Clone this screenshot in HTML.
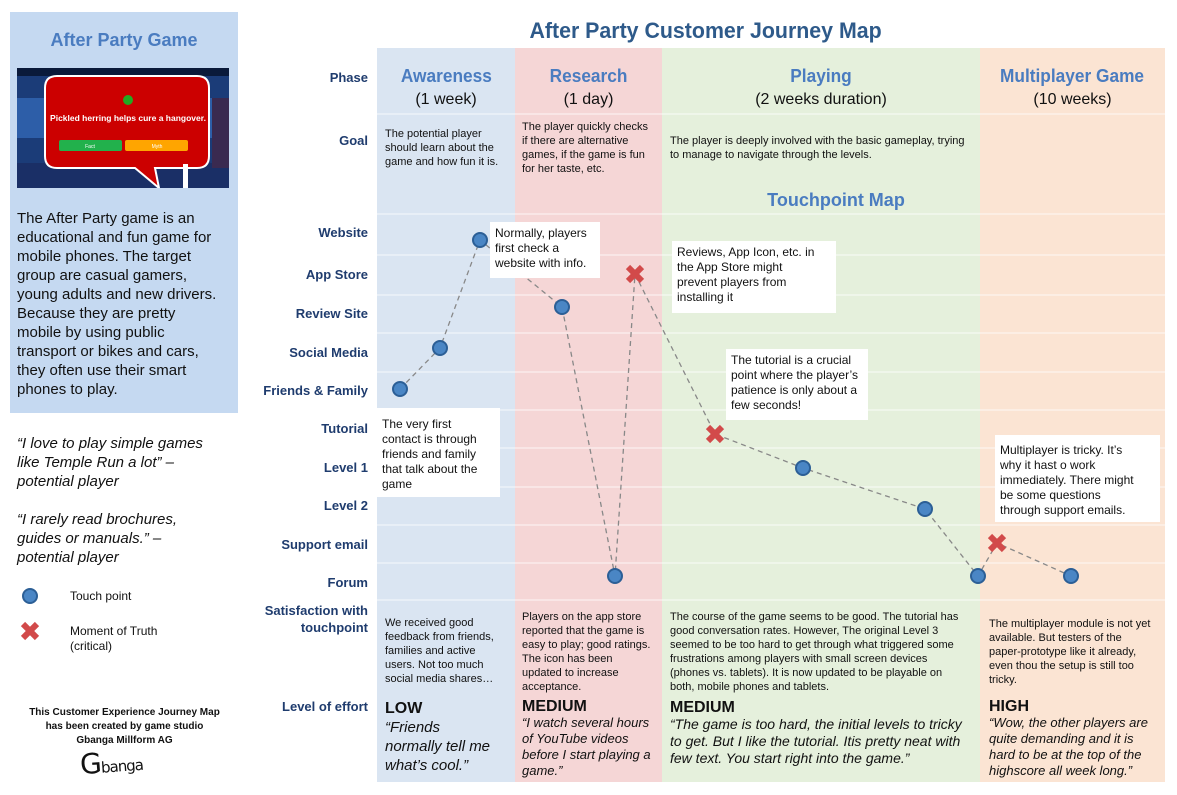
<!DOCTYPE html>
<html><head><meta charset="utf-8"><style>
*{margin:0;padding:0;box-sizing:border-box}
body{width:1177px;height:795px;background:#fff;position:relative;overflow:hidden;font-family:"Liberation Sans",sans-serif;color:#111}
.a{position:absolute;white-space:nowrap}
.lbl{position:absolute;right:809px;font-weight:bold;font-size:13px;color:#1f3c6e;text-align:right;white-space:nowrap}
.ph{position:absolute;text-align:center;font-size:16px;line-height:22px}
.ph b{color:#4a7cc0;font-size:18px;display:inline-block;transform:scaleX(.96)}
.sm{font-size:11px;line-height:14px}
.box{position:absolute;background:#fff;font-size:12px;line-height:15px;padding:4px 5px;white-space:nowrap}
.eff{position:absolute;font-size:15px;line-height:19px;white-space:nowrap}
.eff b{font-style:normal;font-size:16px;display:block}
.eff i{display:block}
</style></head><body>
<!-- left panel -->
<div class="a" style="left:10px;top:12px;width:228px;height:401px;background:#c5d9f1"></div>
<div class="a" style="left:10px;top:30px;width:228px;text-align:center;color:#4a7cc0;font-size:18px;font-weight:bold">After Party Game</div>
<svg class="a" style="left:17px;top:68px" width="212" height="120" viewBox="0 0 212 120">
<rect width="212" height="120" fill="#1b3c78"/>
<rect y="0" width="212" height="8" fill="#0a1a3a"/>
<rect y="30" width="212" height="40" fill="#2d5ea8"/>
<rect y="95" width="212" height="25" fill="#1a2f66"/>
<rect x="195" y="30" width="17" height="70" fill="#3a2a50"/>
<path d="M40 8 L180 8 Q192 8 192 20 L192 88 Q192 100 180 100 L138 100 L142 120 L118 100 L40 100 Q28 100 28 88 L28 20 Q28 8 40 8 Z" fill="#cc0000" stroke="#fff" stroke-width="2"/>
<circle cx="111" cy="32" r="5" fill="#2a2"/>
<text x="111" y="53" font-size="8.5" font-weight="bold" fill="#fff" text-anchor="middle" font-family="Liberation Sans">Pickled herring helps cure a hangover.</text>
<rect x="42" y="72" width="63" height="11" rx="2" fill="#22b14c"/>
<rect x="108" y="72" width="63" height="11" rx="2" fill="#ffa500"/>
<text x="73" y="80" font-size="5" fill="#fff" text-anchor="middle">Fact</text>
<text x="140" y="80" font-size="5" fill="#fff" text-anchor="middle">Myth</text>
<rect x="166" y="96" width="5" height="24" fill="#fff"/>
</svg>
<div class="a" style="left:17px;top:209px;font-size:15px;line-height:19px">The After Party game is an<br>educational and fun game for<br>mobile phones. The target<br>group are casual gamers,<br>young adults and new drivers.<br>Because they are pretty<br>mobile by using public<br>transport or bikes and cars,<br>they often use their smart<br>phones to play.</div>
<div class="a" style="left:17px;top:434px;font-size:15px;line-height:19px;font-style:italic">“I love to play simple games<br>like Temple Run a lot” –<br>potential player<br><br>“I rarely read brochures,<br>guides or manuals.” –<br>potential player</div>
<svg class="a" style="left:18px;top:586px" width="30" height="60"><circle cx="12" cy="10" r="7" fill="#4a86c5" stroke="#2c5f96" stroke-width="2"/><path d="M5 38 L19 52 M19 38 L5 52" stroke="#d24a4a" stroke-width="6"/></svg>
<div class="a" style="left:70px;top:589px;font-size:12px">Touch point</div>
<div class="a" style="left:70px;top:624px;font-size:12px;line-height:15px">Moment of Truth<br>(critical)</div>
<div class="a" style="left:12px;top:706px;width:225px;text-align:center;font-size:10px;font-weight:bold;line-height:14px">This Customer Experience Journey Map<br>has been created by game studio<br>Gbanga Millform AG</div>
<div class="a" style="left:80px;top:746px;font-size:28px;font-family:'DejaVu Sans',sans-serif;letter-spacing:-1px;transform:rotate(-4deg)">G<span style="font-size:15px">banga</span></div>

<!-- title -->
<div class="a" style="left:377px;top:18px;width:658px;text-align:center;font-size:22px;font-weight:bold;color:#2e5a8a"><span style="display:inline-block;transform:scaleX(.97)">After Party Customer Journey Map</span></div>
<!-- columns -->
<div class="a" style="left:377px;top:48px;width:138px;height:734px;background:#dae5f2"></div>
<div class="a" style="left:515px;top:48px;width:147px;height:734px;background:#f5d6d6"></div>
<div class="a" style="left:662px;top:48px;width:318px;height:734px;background:#e5f0dc"></div>
<div class="a" style="left:980px;top:48px;width:185px;height:734px;background:#fbe4d3"></div>
<svg class="a" style="left:377px;top:0" width="788" height="795">
<g stroke="#fff" stroke-width="1" opacity=".8">
<line x1="0" y1="114" x2="788" y2="114"/><line x1="0" y1="214" x2="788" y2="214"/><line x1="0" y1="255" x2="788" y2="255"/><line x1="0" y1="295" x2="788" y2="295"/><line x1="0" y1="333" x2="788" y2="333"/><line x1="0" y1="372" x2="788" y2="372"/><line x1="0" y1="410" x2="788" y2="410"/><line x1="0" y1="448" x2="788" y2="448"/><line x1="0" y1="487" x2="788" y2="487"/><line x1="0" y1="525" x2="788" y2="525"/><line x1="0" y1="563" x2="788" y2="563"/><line x1="0" y1="600" x2="788" y2="600"/>
</g></svg>

<!-- row labels -->
<div class="lbl" style="top:70px">Phase</div>
<div class="lbl" style="top:133px">Goal</div>
<div class="lbl" style="top:225px">Website</div>
<div class="lbl" style="top:267px">App Store</div>
<div class="lbl" style="top:306px">Review Site</div>
<div class="lbl" style="top:345px">Social Media</div>
<div class="lbl" style="top:383px">Friends &amp; Family</div>
<div class="lbl" style="top:421px">Tutorial</div>
<div class="lbl" style="top:460px">Level 1</div>
<div class="lbl" style="top:498px">Level 2</div>
<div class="lbl" style="top:537px">Support email</div>
<div class="lbl" style="top:575px">Forum</div>
<div class="lbl" style="top:602px;line-height:17px">Satisfaction with<br>touchpoint</div>
<div class="lbl" style="top:699px">Level of effort</div>

<!-- phases -->
<div class="ph" style="left:377px;top:65px;width:138px"><b>Awareness</b><br>(1 week)</div>
<div class="ph" style="left:515px;top:65px;width:147px"><b>Research</b><br>(1 day)</div>
<div class="ph" style="left:662px;top:65px;width:318px"><b>Playing</b><br>(2 weeks duration)</div>
<div class="ph" style="left:980px;top:65px;width:185px"><b>Multiplayer Game</b><br>(10 weeks)</div>
<!-- goals -->
<div class="a sm" style="left:385px;top:127px">The potential player<br>should learn about the<br>game and how fun it is.</div>
<div class="a sm" style="left:522px;top:120px">The player quickly checks<br>if there are alternative<br>games, if the game is fun<br>for her taste, etc.</div>
<div class="a sm" style="left:670px;top:134px">The player is deeply involved with the basic gameplay, trying<br>to manage to navigate through the levels.</div>
<div class="a" style="left:662px;top:190px;width:348px;text-align:center;font-size:18px;font-weight:bold;color:#4a7cc0">Touchpoint Map</div>

<!-- path -->
<svg class="a" style="left:0;top:0" width="1177" height="795">
<polyline points="400,389 440,348 480,240 562,307 615,576 635,274 715,434 803,468 925,509 978,576 997,543 1071,576" fill="none" stroke="#888" stroke-width="1.3" stroke-dasharray="5,4"/>
<g fill="#4a86c5" stroke="#2c5f96" stroke-width="2">
<circle cx="400" cy="389" r="7"/><circle cx="440" cy="348" r="7"/><circle cx="480" cy="240" r="7"/><circle cx="562" cy="307" r="7"/><circle cx="615" cy="576" r="7"/><circle cx="803" cy="468" r="7"/><circle cx="925" cy="509" r="7"/><circle cx="978" cy="576" r="7"/><circle cx="1071" cy="576" r="7"/>
</g>
<g stroke="#d24a4a" stroke-width="6">
<path d="M628 267 L642 281 M642 267 L628 281"/><path d="M708 427 L722 441 M722 427 L708 441"/><path d="M990 536 L1004 550 M1004 536 L990 550"/>
</g></svg>

<!-- boxes -->
<div class="box" style="left:490px;top:222px;width:110px;height:56px">Normally, players<br>first check a<br>website with info.</div>
<div class="box" style="left:672px;top:241px;width:164px;height:72px">Reviews, App Icon, etc. in<br>the App Store might<br>prevent players from<br>installing it</div>
<div class="box" style="left:726px;top:349px;width:142px;height:71px">The tutorial is a crucial<br>point where the player’s<br>patience is only about a<br>few seconds!</div>
<div class="box" style="left:377px;top:408px;width:123px;height:89px;padding-top:9px">The very first<br>contact is through<br>friends and family<br>that talk about the<br>game</div>
<div class="box" style="left:995px;top:435px;width:165px;height:87px;padding-top:8px">Multiplayer is tricky. It’s<br>why it hast o work<br>immediately. There might<br>be some questions<br>through support emails.</div>

<!-- satisfaction -->
<div class="a sm" style="left:385px;top:616px">We received good<br>feedback from friends,<br>families and active<br>users. Not too much<br>social media shares…</div>
<div class="a sm" style="left:522px;top:610px">Players on the app store<br>reported that the game is<br>easy to play; good ratings.<br>The icon has been<br>updated to increase<br>acceptance.</div>
<div class="a sm" style="left:670px;top:610px">The course of the game seems to be good. The tutorial has<br>good conversation rates. However, The original Level 3<br>seemed to be too hard to get through what triggered some<br>frustrations among players with small screen devices<br>(phones vs. tablets). It is now updated to be playable on<br>both, mobile phones and tablets.</div>
<div class="a sm" style="left:989px;top:617px">The multiplayer module is not yet<br>available. But testers of the<br>paper-prototype like it already,<br>even thou the setup is still too<br>tricky.</div>

<!-- effort -->
<div class="eff" style="left:385px;top:699px"><b>LOW</b><i>“Friends<br>normally tell me<br>what’s cool.”</i></div>
<div class="eff" style="left:522px;top:699px;font-size:13px;line-height:16px"><b>MEDIUM</b><i>“I watch several hours<br>of YouTube videos<br>before I start playing a<br>game.”</i></div>
<div class="eff" style="left:670px;top:699px;font-size:14px;line-height:17px"><b>MEDIUM</b><i>“The game is too hard, the initial levels to tricky<br>to get. But I like the tutorial. Itis pretty neat with<br>few text. You start right into the game.”</i></div>
<div class="eff" style="left:989px;top:699px;font-size:13px;line-height:16px"><b>HIGH</b><i>“Wow, the other players are<br>quite demanding and it is<br>hard to be at the top of the<br>highscore all week long.”</i></div>
</body></html>
